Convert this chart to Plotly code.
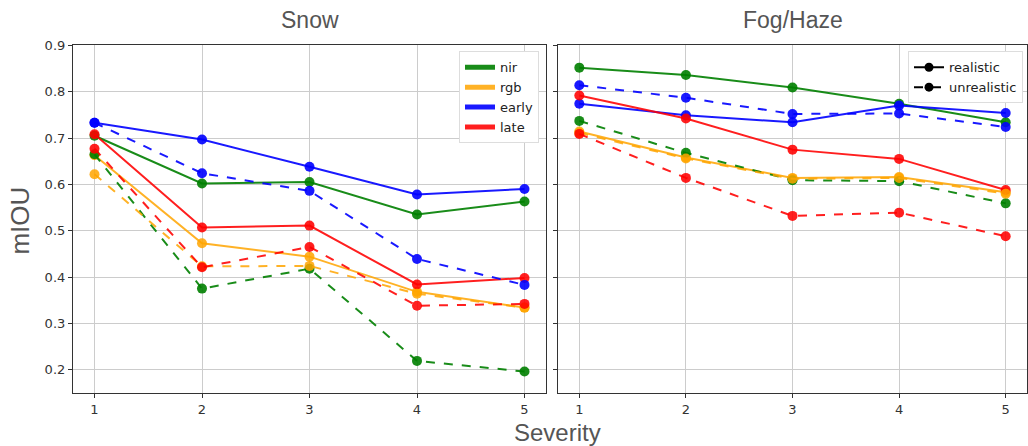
import plotly.graph_objects as go

severity = [1, 2, 3, 4, 5]
models = ["nir", "rgb", "early", "late"]
model_colors = ["rgba(0,128,0,0.9)", "rgba(255,165,0,0.85)", "rgba(0,0,255,0.9)", "rgba(255,0,0,0.88)"]

snow_real = {
    "nir":   [0.705, 0.602, 0.605, 0.535, 0.563],
    "rgb":   [0.663, 0.473, 0.444, 0.368, 0.334],
    "early": [0.733, 0.697, 0.638, 0.578, 0.590],
    "late":  [0.708, 0.507, 0.511, 0.384, 0.398],
}
snow_unreal = {
    "nir":   [0.665, 0.375, 0.418, 0.219, 0.196],
    "rgb":   [0.622, 0.423, 0.424, 0.364, 0.334],
    "early": [0.733, 0.624, 0.586, 0.439, 0.383],
    "late":  [0.677, 0.421, 0.465, 0.338, 0.342],
}
fog_real = {
    "nir":   [0.852, 0.836, 0.809, 0.774, 0.734],
    "rgb":   [0.714, 0.658, 0.614, 0.616, 0.583],
    "early": [0.774, 0.749, 0.734, 0.770, 0.754],
    "late":  [0.792, 0.742, 0.675, 0.655, 0.588],
}
fog_unreal = {
    "nir":   [0.737, 0.668, 0.609, 0.607, 0.559],
    "rgb":   [0.711, 0.656, 0.612, 0.614, 0.580],
    "early": [0.814, 0.787, 0.752, 0.753, 0.724],
    "late":  [0.709, 0.614, 0.532, 0.539, 0.488],
}
style_names = ["realistic", "unrealistic"]
y_ticks = [0.2, 0.3, 0.4, 0.5, 0.6, 0.7, 0.8, 0.9]

W, H = 1028, 446
fig = go.Figure()

panels = [("x", "y", snow_real, snow_unreal), ("x2", "y2", fog_real, fog_unreal)]
for xa, ya, real, unreal in panels:
    for dash, data in (("solid", real), ("dash", unreal)):
        for m, c in zip(models, model_colors):
            fig.add_trace(go.Scatter(
                x=severity, y=data[m], xaxis=xa, yaxis=ya, mode="lines+markers",
                line=dict(color=c, width=2, dash=dash),
                marker=dict(color=c, size=10),
                showlegend=False, hoverinfo="skip"))

# legend 1: models
for m, c in zip(models, model_colors):
    fig.add_trace(go.Scatter(x=[None], y=[None], mode="lines", name=m,
                             line=dict(color=c, width=5), legend="legend"))
# legend 2: styles
for s, dash in zip(style_names, ["solid", "dash"]):
    fig.add_trace(go.Scatter(x=[None], y=[None], xaxis="x2", yaxis="y2", mode="lines+markers", name=s,
                             line=dict(color="black", width=2, dash=dash),
                             marker=dict(color="black", size=9), legend="legend2"))

def px_x(p):
    return p / W

def px_y(p):
    return (H - p) / H

ydom = [px_y(392), px_y(39)]
axis_common = dict(showgrid=True, gridcolor="#cccccc", gridwidth=1.3, showline=True, linecolor="#333",
                   linewidth=1.2, mirror=True, ticks="outside", ticklen=4, tickcolor="#333",
                   tickfont=dict(family="DejaVu Sans", size=13, color="#333"), zeroline=False)

fig.update_layout(
    width=W, height=H, margin=dict(l=0, r=0, t=0, b=0),
    plot_bgcolor="white", paper_bgcolor="white",
    xaxis=dict(domain=[px_x(73), px_x(546)], range=[0.8, 5.2], tickvals=severity, anchor="y", **axis_common),
    xaxis2=dict(domain=[px_x(558), px_x(1027)], range=[0.8, 5.2], tickvals=severity, anchor="y2", **axis_common),
    yaxis=dict(domain=ydom, range=[0.15, 0.9], tickvals=y_ticks, ticktext=[f"{v:.1f}" for v in y_ticks],
               anchor="x", **axis_common),
    yaxis2=dict(domain=ydom, range=[0.15, 0.9], tickvals=y_ticks, showticklabels=False, anchor="x2",
                **axis_common),
    legend=dict(x=px_x(459), y=px_y(45), xanchor="left", yanchor="top", bgcolor="white",
                bordercolor="#dddddd", borderwidth=1, font=dict(family="DejaVu Sans", size=13, color="#222"),
                itemwidth=30, tracegroupgap=0),
    legend2=dict(x=px_x(1023), y=px_y(45), xanchor="right", yanchor="top", bgcolor="white",
                 bordercolor="#dddddd", borderwidth=1, font=dict(family="DejaVu Sans", size=13, color="#222"),
                 itemwidth=30),
    annotations=[
        dict(text="Snow", x=px_x(309.5), y=px_y(13), xref="paper", yref="paper", showarrow=False,
             xanchor="center", yanchor="middle", font=dict(family="Liberation Sans", size=23, color="#555")),
        dict(text="Fog/Haze", x=px_x(793), y=px_y(13), xref="paper", yref="paper", showarrow=False,
             xanchor="center", yanchor="middle", font=dict(family="Liberation Sans", size=23, color="#555")),
        dict(text="mIOU", x=px_x(20), y=px_y(217), xref="paper", yref="paper", showarrow=False, textangle=-90,
             xanchor="center", yanchor="middle", font=dict(family="Liberation Sans", size=26, color="#555")),
        dict(text="Severity", x=px_x(557), y=px_y(432), xref="paper", yref="paper", showarrow=False,
             xanchor="center", yanchor="middle", font=dict(family="Liberation Sans", size=24, color="#555")),
    ],
)

fig.write_html("out.html")
